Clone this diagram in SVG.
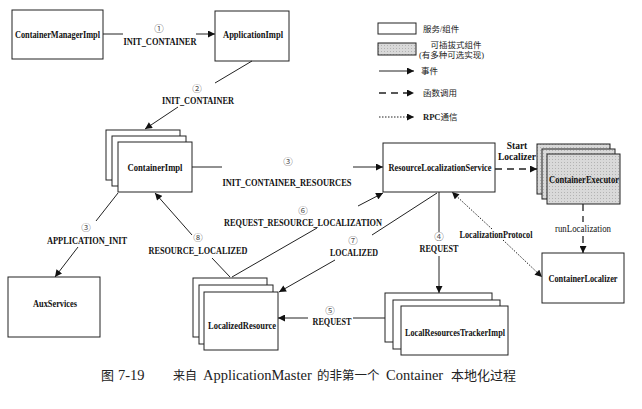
<svg xmlns="http://www.w3.org/2000/svg" width="642" height="409" viewBox="0 0 642 409">
<style>
.box{fill:#fff;stroke:#222;stroke-width:1}
.gbox{fill:url(#dots);stroke:#222;stroke-width:1}
.ln{fill:none;stroke:#222;stroke-width:1}
.dash{fill:none;stroke:#222;stroke-width:1.3;stroke-dasharray:7 5}
.dot{fill:none;stroke:#222;stroke-width:1;stroke-dasharray:1.5 1.5}
.lbl{font-family:"Liberation Serif",serif;font-weight:bold;font-size:10.5px;text-anchor:middle;fill:#111}
.sm{font-size:9.5px}
.reg{font-family:"Liberation Serif",serif;font-size:10.5px;text-anchor:middle;fill:#111}
.num{font-family:"Noto Sans CJK SC",sans-serif;font-size:9.5px;text-anchor:middle;fill:#555}
.cjk{font-family:"Liberation Serif","Noto Sans CJK SC",serif;font-size:8.5px;fill:#222}
.cap{font-family:"Liberation Serif","Noto Sans CJK SC",serif;fill:#222}
</style>
<defs>
<pattern id="dots" width="3" height="3" patternUnits="userSpaceOnUse">
<rect width="3" height="3" fill="#d9d9d9"/><rect width="1" height="1" fill="#b3b3b3"/>
</pattern>
<marker id="arr" viewBox="0 0 10 10" refX="10" refY="5" markerWidth="8" markerHeight="7" markerUnits="userSpaceOnUse" orient="auto-start-reverse">
<path d="M0,0 L10,5 L0,10 z" fill="#111"/>
</marker>
</defs>
<rect width="642" height="409" fill="#fff"/>

<!-- Legend -->
<g id="legend">
<rect class="box" x="378" y="23" width="38" height="11"/>
<text class="cjk" x="423" y="32">服务/组件</text>
<rect class="gbox" x="378" y="43" width="38" height="12"/>
<text class="cjk" x="456" y="47.5" text-anchor="middle">可插拔式组件</text>
<text class="cjk" x="419" y="57.5">(有多种可选实现)</text>
<line class="ln" x1="379" y1="71" x2="414" y2="71" marker-end="url(#arr)"/>
<text class="cjk" x="421" y="74">事件</text>
<line class="dash" x1="379" y1="93" x2="414" y2="93" marker-end="url(#arr)"/>
<text class="cjk" x="423" y="96">函数调用</text>
<line class="dot" x1="379" y1="117" x2="414" y2="117" marker-end="url(#arr)"/>
<text class="cjk" x="423" y="120"><tspan font-weight="bold">RPC</tspan>通信</text>
</g>

<!-- Nodes -->
<g id="ContainerManagerImpl">
<rect class="box" x="12" y="10" width="91" height="49"/>
<text class="lbl" x="57.5" y="37.5" textLength="85" lengthAdjust="spacingAndGlyphs">ContainerManagerImpl</text>
</g>
<g id="ApplicationImpl">
<rect class="box" x="215" y="11" width="74" height="50"/>
<text class="lbl" x="253" y="37.5" textLength="60" lengthAdjust="spacingAndGlyphs">ApplicationImpl</text>
</g>
<g id="ContainerImpl">
<rect class="box" x="106" y="130" width="74" height="50"/>
<rect class="box" x="112" y="136" width="74" height="50"/>
<rect class="box" x="118" y="142" width="74" height="50"/>
<text class="lbl" x="155" y="170.5" textLength="55" lengthAdjust="spacingAndGlyphs">ContainerImpl</text>
</g>
<g id="ResourceLocalizationService">
<rect class="box" x="383" y="143" width="112" height="49"/>
<text class="lbl" x="440" y="171" font-size="10" textLength="103" lengthAdjust="spacingAndGlyphs">ResourceLocalizationService</text>
</g>
<g id="ContainerExecutor">
<rect class="gbox" x="537" y="144" width="73" height="50"/>
<rect class="gbox" x="542" y="149" width="73" height="50"/>
<rect class="gbox" x="547" y="154" width="73" height="50"/>
<text class="lbl" x="584" y="182.5" textLength="70" lengthAdjust="spacingAndGlyphs">ContainerExecutor</text>
</g>
<g id="ContainerLocalizer">
<rect class="box" x="542" y="253" width="82" height="50"/>
<text class="lbl" x="583" y="281.5" textLength="69" lengthAdjust="spacingAndGlyphs">ContainerLocalizer</text>
</g>
<g id="AuxServices">
<rect class="box" x="8" y="277" width="92" height="60"/>
<text class="lbl" x="55" y="306.5" textLength="44" lengthAdjust="spacingAndGlyphs">AuxServices</text>
</g>
<g id="LocalizedResource">
<rect class="box" x="193" y="278" width="74" height="59"/>
<rect class="box" x="199" y="285" width="74" height="59"/>
<rect class="box" x="204" y="292" width="74" height="58"/>
<text class="lbl" x="242" y="328.5" textLength="68" lengthAdjust="spacingAndGlyphs">LocalizedResource</text>
</g>
<g id="LocalResourcesTrackerImpl">
<rect class="box" x="385" y="293" width="107" height="49"/>
<rect class="box" x="393" y="300" width="107" height="49"/>
<rect class="box" x="401" y="306" width="107" height="49"/>
<text class="lbl" x="455" y="335.5" textLength="100" lengthAdjust="spacingAndGlyphs">LocalResourcesTrackerImpl</text>
</g>

<!-- Connectors -->
<g id="connectors">
<line class="ln" x1="103" y1="34" x2="123" y2="34"/>
<line class="ln" x1="196" y1="34" x2="215" y2="34" marker-end="url(#arr)"/>
<line class="ln" x1="252" y1="61" x2="215" y2="83"/>
<line class="ln" x1="178" y1="107" x2="145" y2="129" marker-end="url(#arr)"/>
<line class="ln" x1="192" y1="167" x2="222" y2="167"/>
<line class="ln" x1="353" y1="167" x2="383" y2="167" marker-end="url(#arr)"/>
<line class="ln" x1="118" y1="193" x2="96" y2="221"/>
<line class="ln" x1="78" y1="247" x2="55" y2="277" marker-end="url(#arr)"/>
<line class="ln" x1="230" y1="277" x2="212" y2="258"/>
<line class="ln" x1="192" y1="235" x2="155" y2="193" marker-end="url(#arr)"/>
<line class="ln" x1="232" y1="277" x2="317" y2="228"/>
<line class="ln" x1="358" y1="206" x2="383" y2="193" marker-end="url(#arr)"/>
<line class="ln" x1="437" y1="193" x2="372" y2="235"/>
<line class="ln" x1="335" y1="260" x2="279" y2="292" marker-end="url(#arr)"/>
<line class="ln" x1="439" y1="192" x2="439" y2="232"/>
<line class="ln" x1="439" y1="256" x2="439" y2="293" marker-end="url(#arr)"/>
<line class="ln" x1="385" y1="318" x2="353" y2="318"/>
<line class="ln" x1="308" y1="318" x2="278" y2="318" marker-end="url(#arr)"/>
<line class="dash" x1="495" y1="169" x2="537" y2="169" marker-end="url(#arr)"/>
<line class="dash" x1="583" y1="204" x2="583" y2="222"/>
<line class="dash" x1="583" y1="236" x2="583" y2="253" marker-end="url(#arr)"/>
<line class="dot" x1="492" y1="229" x2="452" y2="192" marker-end="url(#arr)"/>
<line class="dot" x1="503" y1="240" x2="542" y2="277" marker-end="url(#arr)"/>

<text class="num" x="159" y="32">①</text>
<text class="lbl" x="160" y="45" textLength="73" lengthAdjust="spacingAndGlyphs">INIT_CONTAINER</text>
<text class="num" x="197" y="92">②</text>
<text class="lbl" x="198" y="104" textLength="72" lengthAdjust="spacingAndGlyphs">INIT_CONTAINER</text>
<text class="num" x="288" y="165">③</text>
<text class="lbl" x="287" y="186" textLength="129" lengthAdjust="spacingAndGlyphs">INIT_CONTAINER_RESOURCES</text>
<text class="num" x="86" y="231">③</text>
<text class="lbl" x="87" y="244" textLength="80" lengthAdjust="spacingAndGlyphs">APPLICATION_INIT</text>
<text class="num" x="198" y="241">⑧</text>
<text class="lbl" x="198" y="254" textLength="99" lengthAdjust="spacingAndGlyphs">RESOURCE_LOCALIZED</text>
<text class="num" x="303" y="214">⑥</text>
<text class="lbl" x="303" y="226" textLength="158" lengthAdjust="spacingAndGlyphs">REQUEST_RESOURCE_LOCALIZATION</text>
<text class="num" x="353" y="244">⑦</text>
<text class="lbl" x="354" y="256" textLength="48" lengthAdjust="spacingAndGlyphs">LOCALIZED</text>
<text class="num" x="439" y="240">④</text>
<text class="lbl" x="439" y="252" textLength="39" lengthAdjust="spacingAndGlyphs">REQUEST</text>
<text class="num" x="330" y="314">⑤</text>
<text class="lbl" x="332" y="325" textLength="39" lengthAdjust="spacingAndGlyphs">REQUEST</text>
<text class="lbl sm"><tspan x="517" y="148.5">Start</tspan><tspan x="517" y="159.5">Localizer</tspan></text>
<text class="reg" x="583" y="232" textLength="56" lengthAdjust="spacingAndGlyphs">runLocalization</text>
<text class="lbl" x="496" y="238" textLength="73" lengthAdjust="spacingAndGlyphs">LocalizationProtocol</text>
</g>

<text class="cap" y="380"><tspan x="101" font-size="13">图</tspan><tspan x="118" font-size="14.5">7-19</tspan><tspan x="173" font-size="12">来自</tspan><tspan x="203" font-size="14.5">ApplicationMaster</tspan><tspan x="317" font-size="12.5">的非第一个</tspan><tspan x="386" font-size="14.5">Container</tspan><tspan x="451" font-size="13">本地化过程</tspan></text>
</svg>
